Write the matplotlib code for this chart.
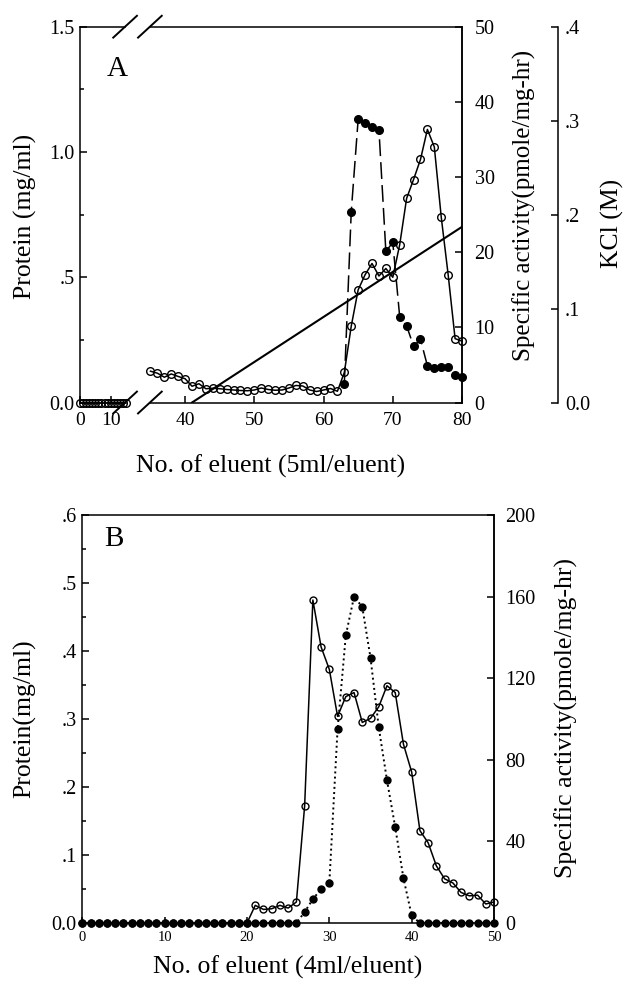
import numpy as np
import matplotlib
matplotlib.use("Agg")
import matplotlib.pyplot as plt

plt.rcParams['font.family'] = ['Liberation Serif', 'DejaVu Serif']

# ---- panel A data ----
a_x_left = list(range(0, 16))
a_prot_left = [0.0] * 16

a_x = list(range(35, 81))
a_prot = [0.125, 0.117, 0.101, 0.114, 0.104, 0.095, 0.065, 0.075,
          0.055, 0.057, 0.055, 0.052, 0.050, 0.048, 0.047, 0.050, 0.058, 0.052,
          0.049, 0.050, 0.058, 0.068, 0.066, 0.050, 0.044, 0.050, 0.056, 0.045,
          0.120, 0.305, 0.450, 0.510, 0.555, 0.505, 0.535, 0.500, 0.630, 0.815,
          0.890, 0.970, 1.090, 1.020, 0.740, 0.510, 0.255, 0.245]

a_act_x = list(range(63, 81))
a_act = [2.5, 25.4, 37.7, 37.2, 36.7, 36.3, 20.1, 21.3, 11.4, 10.2,
         7.5, 8.4, 4.9, 4.55, 4.76, 4.7, 3.66, 3.43]

kcl_x = [41, 80]
kcl = [0.0, 0.187]

a_xticks = [0, 10, 40, 50, 60, 70, 80]
a_yticks = [0.0, 0.5, 1.0, 1.5]
a_ylabels = ["0.0", ".5", "1.0", "1.5"]
a_acticks = [0, 10, 20, 30, 40, 50]
kcl_ticks = [0.0, 0.1, 0.2, 0.3, 0.4]
kcl_labels = ["0.0", ".1", ".2", ".3", ".4"]

# ---- panel B data ----
b_x = list(range(0, 51))
b_prot = [0.0] * 21 + [0.026, 0.020, 0.021, 0.026, 0.022, 0.031, 0.172, 0.475,
                       0.406, 0.373, 0.304, 0.333, 0.339, 0.295, 0.301, 0.318,
                       0.349, 0.339, 0.263, 0.222, 0.136, 0.118, 0.084, 0.065,
                       0.059, 0.045, 0.040, 0.041, 0.028, 0.031]
b_act = [0.0] * 27 + [5.4, 11.7, 16.7, 19.6, 95, 141, 160, 155, 130, 96,
                      70, 47, 22, 3.7] + [0.0] * 10

b_xticks = [0, 10, 20, 30, 40, 50]
b_yticks = [0.0, 0.1, 0.2, 0.3, 0.4, 0.5, 0.6]
b_ylabels = ["0.0", ".1", ".2", ".3", ".4", ".5", ".6"]
b_acticks = [0, 40, 80, 120, 160, 200]

# broken x axis for panel A (pixel-like positions along the axis)
brk_in = [-100, 0, 15, 35, 80, 200]
brk_out = [-307, 0, 46, 70.5, 382, 1212.4]


def fwd(x):
    return np.interp(x, brk_in, brk_out)


def inv(y):
    return np.interp(y, brk_out, brk_in)


fig = plt.figure(figsize=(6.24, 9.89), dpi=100)
lw = 1.1
lab_fs = 18.5

# ================= panel A =================
ax1 = fig.add_axes([0.1282, 0.593, 0.6122, 0.380])
ax1.set_xscale('function', functions=(fwd, inv))
ax1.set_xlim(0, 80)
ax1.set_ylim(0, 1.5)
ax2 = ax1.twinx()
ax2.set_ylim(0, 50)
ax3 = ax1.twinx()
ax3.set_ylim(0, 0.4)
ax3.spines['right'].set_position(('axes', 1.251))

for s in ['top', 'bottom']:
    ax1.spines[s].set_visible(False)
for s in ['top', 'bottom', 'left']:
    ax2.spines[s].set_visible(False)
    ax3.spines[s].set_visible(False)
for a in (ax1, ax2, ax3):
    for s in a.spines.values():
        s.set_linewidth(lw)

# split top/bottom spines with break marks
for yy in (0, 1):
    ax1.plot([0, 0.118], [yy, yy], color='k', lw=lw, transform=ax1.transAxes, clip_on=False)
    ax1.plot([0.183, 1], [yy, yy], color='k', lw=lw, transform=ax1.transAxes, clip_on=False)
    for c in (0.118, 0.183):
        ax1.plot([c - 0.031, c + 0.031], [yy - 0.029, yy + 0.029], color='k', lw=1.4,
                 transform=ax1.transAxes, clip_on=False)

ax1.plot(a_x_left, a_prot_left, 'o-', color='k', mfc='none', mec='k', ms=5.5, lw=lw, clip_on=False, zorder=3)
ax1.plot(a_x, a_prot, 'o-', color='k', mfc='none', mec='k', ms=5.5, lw=lw, clip_on=False, zorder=3)
ax2.plot(a_act_x, a_act, 'o', color='k', ms=5.5, linestyle='-', dashes=(11, 4), lw=lw, clip_on=False)
ax3.plot(kcl_x, kcl, color='k', lw=1.5)

ax1.set_xticks(a_xticks)
ax1.set_xticklabels([str(t) for t in a_xticks])
ax1.set_yticks(a_yticks)
ax1.set_yticklabels(a_ylabels)
ax1.set_yticks([0.25, 0.75, 1.25], minor=True)
ax1.xaxis.set_minor_locator(matplotlib.ticker.NullLocator())
ax1.tick_params(axis='x', which='both', direction='in', length=5, width=lw, labelsize=14, pad=7)
ax1.tick_params(axis='y', which='major', direction='in', length=5, width=lw, labelsize=14.5, pad=4)
ax1.tick_params(axis='y', which='minor', direction='in', length=3, width=lw)

ax2.set_yticks(a_acticks)
ax2.tick_params(axis='y', direction='in', length=5, width=lw, labelsize=14.5, pad=9)
ax3.set_yticks(kcl_ticks)
ax3.set_yticklabels(kcl_labels)
ax3.tick_params(axis='y', direction='in', length=5, width=lw, labelsize=14.5, pad=5)

ax1.text(0.097, 0.887, "A", transform=ax1.transAxes, fontsize=21, ha='center', va='center')

fig.text(25 / 624, 1 - 216 / 989, "Protein (mg/ml)", rotation=90, ha='center', va='center', fontsize=lab_fs)
fig.text(524 / 624, 1 - 205 / 989, "Specific activity(pmole/mg-hr)", rotation=90, ha='center', va='center', fontsize=18)
fig.text(612 / 624, 1 - 223 / 989, "KCl (M)", rotation=90, ha='center', va='center', fontsize=lab_fs)
fig.text(271 / 624, 1 - 466 / 989, "No. of eluent (5ml/eluent)", ha='center', va='center', fontsize=lab_fs)

# ================= panel B =================
ax4 = fig.add_axes([0.1319, 0.0667, 0.6598, 0.4125])
ax4.set_xlim(0, 50)
ax4.set_ylim(0, 0.6)
ax5 = ax4.twinx()
ax5.set_ylim(0, 200)
for s in ['top', 'bottom', 'left']:
    ax5.spines[s].set_visible(False)
for a in (ax4, ax5):
    for s in a.spines.values():
        s.set_linewidth(lw)

ax4.plot(b_x, b_prot, 'o-', color='k', mfc='none', mec='k', ms=5, lw=lw, clip_on=False, zorder=3)
ax5.plot(b_x, b_act, 'o', color='k', ms=5, linestyle=':', lw=1.4, clip_on=False)

ax4.set_xticks(b_xticks)
ax4.set_yticks(b_yticks)
ax4.set_yticklabels(b_ylabels)
ax4.set_yticks([0.05, 0.15, 0.25, 0.35, 0.45, 0.55], minor=True)
ax4.tick_params(axis='x', direction='in', length=4, width=lw, labelsize=10.5, pad=6)
ax4.tick_params(axis='y', which='major', direction='in', length=5, width=lw, labelsize=14.5, pad=4)
ax4.tick_params(axis='y', which='minor', direction='in', length=3, width=lw)
ax5.set_yticks(b_acticks)
ax5.tick_params(axis='y', direction='in', length=5, width=lw, labelsize=14.5, pad=8)

ax4.text(0.076, 0.941, "B", transform=ax4.transAxes, fontsize=21, ha='center', va='center')

fig.text(25 / 624, 1 - 719 / 989, "Protein(mg/ml)", rotation=90, ha='center', va='center', fontsize=lab_fs)
fig.text(566 / 624, 1 - 718 / 989, "Specific activity(pmole/mg-hr)", rotation=90, ha='center', va='center', fontsize=lab_fs)
fig.text(288 / 624, 1 - 967 / 989, "No. of eluent (4ml/eluent)", ha='center', va='center', fontsize=lab_fs)

fig.savefig("out.png", dpi=100)
